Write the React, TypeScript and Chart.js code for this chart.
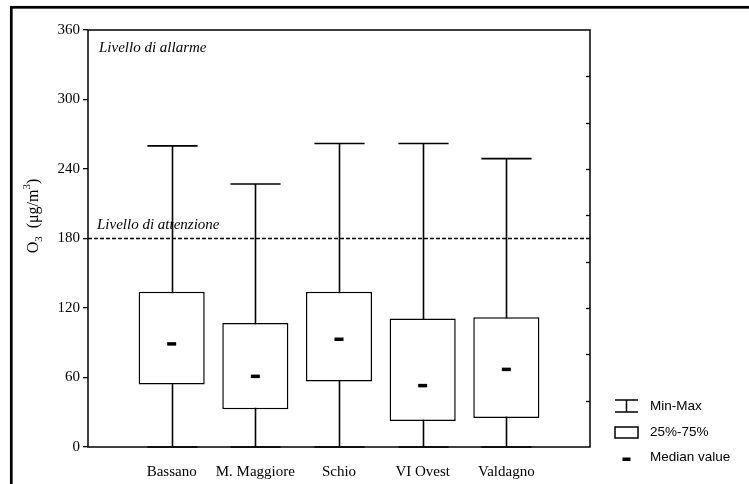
import React, { useEffect, useRef } from "react";
import { Chart, registerables } from "chart.js";

Chart.register(...registerables);

const CATEGORIES = ["Bassano", "M. Maggiore", "Schio", "VI Ovest", "Valdagno"];
const MIN_VALUES = [0, 0, 0, 0, 0];
const Q1_VALUES = [54, 32.5, 56.5, 22.5, 25];
const MEDIAN_VALUES = [89, 61, 93, 53, 67];
const Q3_VALUES = [134, 107, 134, 111, 112];
const MAX_VALUES = [260, 227, 262, 262, 249];
const ATTENTION_LEVEL = 180;
const RIGHT_TICKS = [40, 80, 120, 160, 200, 240, 280, 320];
const LEGEND_LABELS = ["Min-Max", "25%-75%", "Median value"];

const SERIF = '"Liberation Serif", "Times New Roman", serif';
const SANS = '"Liberation Sans", Arial, sans-serif';

const decorPlugin = {
  id: "decor",
  beforeDatasetsDraw(chart: any) {
    const { ctx, chartArea, scales } = chart;
    const x = scales.x;
    const y = scales.y;
    ctx.save();
    // attention dashed line
    const ya = y.getPixelForValue(ATTENTION_LEVEL);
    ctx.strokeStyle = "#000";
    ctx.lineWidth = 1.3;
    ctx.setLineDash([4, 2]);
    ctx.beginPath();
    ctx.moveTo(chartArea.left, ya);
    ctx.lineTo(chartArea.right, ya);
    ctx.stroke();
    ctx.setLineDash([]);
    // whiskers
    const capHalf = (x.getPixelForValue(1) - x.getPixelForValue(0)) * 0.3;
    ctx.lineWidth = 1.6;
    CATEGORIES.forEach((_, i) => {
      const cx = Math.round(x.getPixelForValue(i + 1)) + 0.5;
      const yMin = y.getPixelForValue(MIN_VALUES[i]);
      const yMax = y.getPixelForValue(MAX_VALUES[i]);
      ctx.beginPath();
      ctx.moveTo(cx, yMin);
      ctx.lineTo(cx, yMax);
      ctx.moveTo(cx - capHalf, yMax);
      ctx.lineTo(cx + capHalf, yMax);
      ctx.moveTo(cx - capHalf, yMin);
      ctx.lineTo(cx + capHalf, yMin);
      ctx.stroke();
    });
    ctx.restore();
  },
  afterDraw(chart: any) {
    const { ctx, chartArea, scales } = chart;
    const y = scales.y;
    ctx.save();
    // outer frame
    ctx.strokeStyle = "#000";
    ctx.lineWidth = 2.7;
    ctx.strokeRect(11.3, 7.3, 900, 700);
    // plot frame
    ctx.lineWidth = 1.5;
    ctx.strokeRect(chartArea.left, chartArea.top, chartArea.right - chartArea.left, chartArea.bottom - chartArea.top);
    // right inward ticks
    ctx.lineWidth = 1.3;
    RIGHT_TICKS.forEach((v) => {
      const py = Math.round(y.getPixelForValue(v)) + 0.5;
      ctx.beginPath();
      ctx.moveTo(chartArea.right, py);
      ctx.lineTo(chartArea.right - 4, py);
      ctx.stroke();
    });
    // level labels
    ctx.fillStyle = "#000";
    ctx.font = `italic 15px ${SERIF}`;
    ctx.textAlign = "left";
    ctx.textBaseline = "alphabetic";
    ctx.fillText("Livello di allarme", chartArea.left + 11, y.getPixelForValue(360) + 22);
    ctx.fillText("Livello di attenzione", chartArea.left + 9, y.getPixelForValue(ATTENTION_LEVEL) - 10);

    // y title
    ctx.save();
    ctx.translate(38, 216);
    ctx.rotate(-Math.PI / 2);
    const big = `16px ${SERIF}`;
    const small = `11px ${SERIF}`;
    const parts: [string, string, number][] = [
      ["O", big, 0],
      ["3", small, 4],
      ["  (\u03bcg/m", big, 0],
      ["3", small, -8],
      [")", big, 0],
    ];
    let total = 0;
    parts.forEach(([t, f]) => {
      ctx.font = f;
      total += ctx.measureText(t).width;
    });
    let px = -total / 2;
    ctx.textBaseline = "alphabetic";
    parts.forEach(([t, f, dy]) => {
      ctx.font = f;
      ctx.fillText(t, px, dy);
      px += ctx.measureText(t).width;
    });
    ctx.restore();

    // legend
    const ix0 = chartArea.right + 25;
    const ix1 = chartArea.right + 48;
    const icx = (ix0 + ix1) / 2;
    const tx = chartArea.right + 60;
    const rows = [406, 432, 457];
    ctx.lineWidth = 1.5;
    // min-max icon
    ctx.beginPath();
    ctx.moveTo(ix0, rows[0] - 6);
    ctx.lineTo(ix1, rows[0] - 6);
    ctx.moveTo(ix0, rows[0] + 6);
    ctx.lineTo(ix1, rows[0] + 6);
    ctx.moveTo(icx, rows[0] - 6);
    ctx.lineTo(icx, rows[0] + 6);
    ctx.stroke();
    // box icon
    ctx.strokeRect(ix0, rows[1] - 5, ix1 - ix0, 11);
    // median icon
    ctx.fillRect(icx - 4, rows[2] + 0.5, 8, 3.5);
    ctx.font = `13.5px ${SANS}`;
    ctx.textBaseline = "middle";
    LEGEND_LABELS.forEach((l, i) => ctx.fillText(l, tx, rows[i]));
    ctx.restore();
  },
};

export default function App() {
  const ref = useRef<HTMLCanvasElement>(null);
  useEffect(() => {
    if (!ref.current) return;
    const chart = new Chart(ref.current, {
      type: "bar",
      data: {
        datasets: [
          {
            type: "scatter",
            label: "Median value",
            data: CATEGORIES.map((_, i) => ({ x: i + 1, y: MEDIAN_VALUES[i] })),
            pointStyle: "line",
            pointRadius: 4.5,
            pointBorderWidth: 3.5,
            borderColor: "#000",
            backgroundColor: "#000",
            order: 0,
          } as any,
          {
            type: "bar",
            label: "25%-75%",
            data: CATEGORIES.map((_, i) => ({ x: i + 1, y: [Q1_VALUES[i], Q3_VALUES[i]] })),
            backgroundColor: "#fff",
            borderColor: "#000",
            borderWidth: 1.5,
            borderSkipped: false,
            barPercentage: 0.79,
            categoryPercentage: 1,
            order: 1,
          } as any,
        ],
      },
      options: {
        animation: false,
        responsive: false,
        devicePixelRatio: 1,
        layout: { padding: { top: 30, right: 159, left: 0, bottom: 0 } },
        plugins: { legend: { display: false }, tooltip: { enabled: false } },
        scales: {
          x: {
            type: "linear",
            min: 0,
            max: 6,
            offset: false,
            grid: { display: false, offset: false },
            border: { display: false },
            ticks: {
              stepSize: 1,
              autoSkip: false,
              maxRotation: 0,
              padding: 8,
              color: "#000",
              font: { family: SERIF, size: 15 },
              callback: (v: any) => CATEGORIES[Number(v) - 1] ?? "",
            },
            afterFit: (s: any) => {
              s.height = 37;
            },
          },
          y: {
            type: "linear",
            min: 0,
            max: 360,
            grid: { drawOnChartArea: false, drawTicks: true, tickLength: 5, color: "#000", lineWidth: 1.3 },
            border: { display: false },
            ticks: {
              stepSize: 60,
              padding: 3,
              color: "#000",
              font: { family: SERIF, size: 15 },
            },
            afterFit: (s: any) => {
              s.width = 88;
            },
          },
        },
      } as any,
      plugins: [decorPlugin],
    });
    return () => chart.destroy();
  }, []);
  return (
    <div style={{ position: "fixed", left: 0, top: 0, width: 749, height: 484, background: "#fff" }}>
      <canvas ref={ref} width={749} height={484} style={{ display: "block" }} />
    </div>
  );
}
